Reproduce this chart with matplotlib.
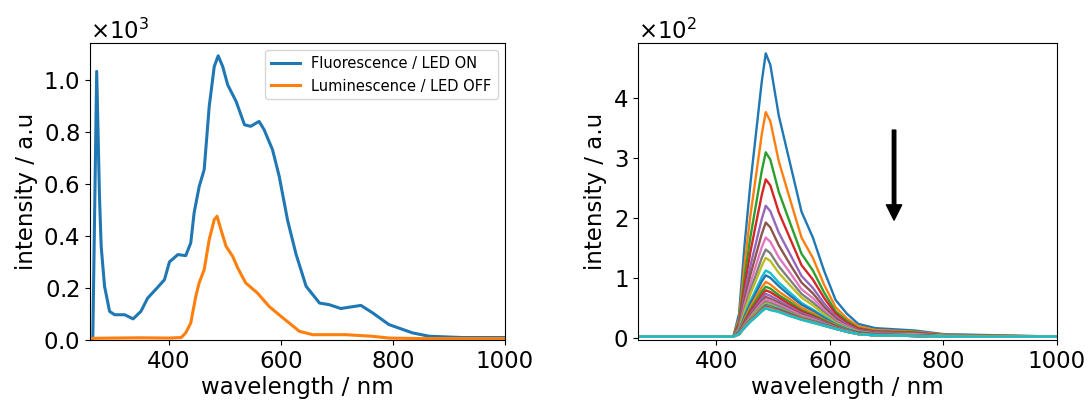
import matplotlib
matplotlib.use("Agg")
import matplotlib.pyplot as plt

# ---- left panel: fluorescence vs luminescence (values in units of 1e3) ----
fluo_wl = [264, 271, 276, 279, 285, 294, 303, 321, 336, 350, 362, 377, 392, 401,
           416, 430, 439, 445, 454, 463, 472, 481, 488, 496, 505, 520, 535, 546,
           561, 570, 585, 597, 612, 627, 645, 669, 686, 707, 743, 764, 793, 835,
           865, 924, 1000]
fluo_int = [0.0, 1.035, 0.55, 0.36, 0.206, 0.109, 0.096, 0.096, 0.08, 0.109, 0.16,
            0.195, 0.231, 0.30, 0.328, 0.324, 0.373, 0.489, 0.59, 0.656, 0.90,
            1.054, 1.095, 1.054, 0.983, 0.919, 0.829, 0.823, 0.842, 0.81, 0.733,
            0.63, 0.46, 0.33, 0.206, 0.141, 0.135, 0.12, 0.132, 0.103, 0.058,
            0.026, 0.013, 0.008, 0.008]

lum_wl = [264, 300, 350, 400, 422, 430, 439, 448, 454, 463, 472, 481, 486, 493,
          502, 514, 523, 537, 558, 579, 600, 615, 633, 657, 716, 763, 793, 850, 1000]
lum_int = [0.005, 0.006, 0.007, 0.006, 0.008, 0.026, 0.064, 0.167, 0.219, 0.27,
           0.386, 0.463, 0.476, 0.424, 0.36, 0.321, 0.276, 0.219, 0.18, 0.128,
           0.09, 0.064, 0.032, 0.019, 0.019, 0.013, 0.006, 0.004, 0.004]

# ---- right panel: luminescence decay series (values in units of 1e2) ----
decay_wl = [262, 430, 440, 450, 460, 470, 480, 487, 495, 510, 530, 550, 570,
            590, 610, 630, 650, 680, 750, 800, 1000]
decay_int = [
    [0.03, 0.03, 0.41, 1.59, 2.58, 3.43, 4.28, 4.75, 4.56, 3.71, 2.91, 2.11, 1.68, 1.12, 0.64, 0.41, 0.24, 0.17, 0.13, 0.07, 0.03],
    [0.03, 0.03, 0.33, 1.26, 2.05, 2.72, 3.40, 3.77, 3.62, 2.95, 2.31, 1.68, 1.34, 0.89, 0.52, 0.33, 0.20, 0.14, 0.11, 0.06, 0.03],
    [0.03, 0.03, 0.28, 1.04, 1.69, 2.24, 2.79, 3.10, 2.98, 2.44, 1.92, 1.41, 1.13, 0.76, 0.45, 0.29, 0.17, 0.12, 0.10, 0.05, 0.03],
    [0.03, 0.03, 0.24, 0.89, 1.44, 1.92, 2.39, 2.65, 2.55, 2.10, 1.66, 1.22, 0.98, 0.67, 0.41, 0.26, 0.16, 0.11, 0.09, 0.05, 0.03],
    [0.03, 0.03, 0.20, 0.75, 1.21, 1.60, 1.99, 2.21, 2.12, 1.76, 1.40, 1.04, 0.84, 0.58, 0.36, 0.23, 0.14, 0.10, 0.08, 0.04, 0.03],
    [0.03, 0.03, 0.18, 0.66, 1.06, 1.40, 1.74, 1.93, 1.85, 1.55, 1.23, 0.93, 0.75, 0.52, 0.33, 0.21, 0.13, 0.09, 0.07, 0.04, 0.03],
    [0.03, 0.03, 0.16, 0.57, 0.92, 1.22, 1.52, 1.68, 1.61, 1.35, 1.09, 0.82, 0.67, 0.47, 0.30, 0.20, 0.12, 0.08, 0.07, 0.04, 0.03],
    [0.03, 0.03, 0.15, 0.51, 0.81, 1.07, 1.34, 1.48, 1.42, 1.20, 0.97, 0.74, 0.60, 0.43, 0.28, 0.18, 0.11, 0.08, 0.06, 0.04, 0.03],
    [0.03, 0.03, 0.13, 0.46, 0.74, 0.97, 1.21, 1.34, 1.29, 1.09, 0.88, 0.68, 0.55, 0.40, 0.26, 0.17, 0.11, 0.07, 0.06, 0.04, 0.03],
    [0.03, 0.03, 0.12, 0.39, 0.62, 0.82, 1.02, 1.13, 1.09, 0.93, 0.76, 0.59, 0.48, 0.36, 0.24, 0.16, 0.10, 0.07, 0.05, 0.04, 0.03],
    [0.03, 0.03, 0.11, 0.37, 0.58, 0.76, 0.95, 1.05, 1.01, 0.87, 0.71, 0.56, 0.46, 0.34, 0.23, 0.15, 0.10, 0.07, 0.05, 0.03, 0.03],
    [0.03, 0.03, 0.10, 0.33, 0.52, 0.69, 0.85, 0.94, 0.90, 0.78, 0.65, 0.51, 0.42, 0.31, 0.22, 0.14, 0.09, 0.06, 0.05, 0.03, 0.03],
    [0.03, 0.03, 0.10, 0.30, 0.48, 0.63, 0.78, 0.86, 0.83, 0.72, 0.60, 0.47, 0.39, 0.30, 0.21, 0.14, 0.09, 0.06, 0.05, 0.03, 0.03],
    [0.03, 0.03, 0.09, 0.28, 0.45, 0.58, 0.72, 0.80, 0.77, 0.68, 0.56, 0.45, 0.37, 0.28, 0.20, 0.13, 0.09, 0.06, 0.05, 0.03, 0.03],
    [0.03, 0.03, 0.09, 0.26, 0.41, 0.54, 0.67, 0.74, 0.71, 0.63, 0.52, 0.42, 0.35, 0.27, 0.19, 0.13, 0.08, 0.06, 0.05, 0.03, 0.03],
    [0.03, 0.03, 0.08, 0.25, 0.39, 0.51, 0.62, 0.69, 0.66, 0.59, 0.49, 0.40, 0.33, 0.26, 0.19, 0.12, 0.08, 0.05, 0.04, 0.03, 0.03],
    [0.03, 0.03, 0.08, 0.23, 0.36, 0.48, 0.59, 0.65, 0.63, 0.56, 0.47, 0.38, 0.32, 0.25, 0.18, 0.12, 0.08, 0.05, 0.04, 0.03, 0.03],
    [0.03, 0.03, 0.08, 0.22, 0.34, 0.45, 0.55, 0.61, 0.59, 0.53, 0.44, 0.36, 0.30, 0.24, 0.17, 0.12, 0.08, 0.05, 0.04, 0.03, 0.03],
    [0.03, 0.03, 0.07, 0.21, 0.33, 0.43, 0.53, 0.58, 0.56, 0.50, 0.42, 0.35, 0.29, 0.23, 0.17, 0.11, 0.08, 0.05, 0.04, 0.03, 0.03],
    [0.03, 0.03, 0.07, 0.20, 0.32, 0.41, 0.51, 0.56, 0.54, 0.49, 0.41, 0.34, 0.29, 0.23, 0.17, 0.11, 0.08, 0.05, 0.04, 0.03, 0.03],
    [0.03, 0.03, 0.07, 0.20, 0.31, 0.40, 0.50, 0.55, 0.53, 0.48, 0.41, 0.34, 0.28, 0.23, 0.17, 0.11, 0.08, 0.05, 0.04, 0.03, 0.03],
    [0.03, 0.03, 0.07, 0.20, 0.31, 0.40, 0.49, 0.54, 0.52, 0.47, 0.40, 0.34, 0.28, 0.22, 0.17, 0.11, 0.08, 0.05, 0.04, 0.03, 0.03],
    [0.03, 0.03, 0.07, 0.19, 0.30, 0.39, 0.48, 0.53, 0.51, 0.47, 0.40, 0.33, 0.28, 0.22, 0.17, 0.11, 0.08, 0.05, 0.04, 0.03, 0.03],
    [0.03, 0.03, 0.08, 0.20, 0.30, 0.38, 0.47, 0.53, 0.50, 0.47, 0.40, 0.33, 0.28, 0.22, 0.17, 0.11, 0.08, 0.05, 0.04, 0.03, 0.03],
    [0.03, 0.03, 0.07, 0.19, 0.29, 0.38, 0.47, 0.52, 0.50, 0.46, 0.39, 0.32, 0.27, 0.22, 0.16, 0.11, 0.07, 0.05, 0.04, 0.03, 0.03],
    [0.03, 0.03, 0.08, 0.19, 0.30, 0.38, 0.46, 0.52, 0.49, 0.46, 0.39, 0.32, 0.27, 0.22, 0.16, 0.11, 0.07, 0.05, 0.04, 0.03, 0.03],
    [0.03, 0.03, 0.07, 0.19, 0.29, 0.37, 0.46, 0.51, 0.49, 0.45, 0.38, 0.32, 0.27, 0.21, 0.16, 0.11, 0.07, 0.05, 0.04, 0.03, 0.03],
    [0.03, 0.03, 0.07, 0.18, 0.28, 0.37, 0.46, 0.51, 0.48, 0.45, 0.38, 0.32, 0.27, 0.21, 0.16, 0.11, 0.07, 0.05, 0.04, 0.03, 0.03],
    [0.03, 0.03, 0.07, 0.18, 0.28, 0.36, 0.45, 0.50, 0.48, 0.44, 0.37, 0.31, 0.26, 0.21, 0.16, 0.11, 0.07, 0.05, 0.04, 0.03, 0.03],
    [0.03, 0.03, 0.07, 0.18, 0.28, 0.36, 0.45, 0.50, 0.47, 0.44, 0.37, 0.31, 0.26, 0.21, 0.16, 0.11, 0.07, 0.05, 0.04, 0.03, 0.03],
]

legend_labels = ["Fluorescence / LED ON", "Luminescence / LED OFF"]


def main():
    plt.rcParams["font.size"] = 16.5
    fig = plt.figure(figsize=(10.88, 4.03), dpi=100)
    ax1 = fig.add_axes([0.0827, 0.156, 0.3813, 0.737])
    ax2 = fig.add_axes([0.5864, 0.156, 0.3851, 0.737])

    # left: spectra with and without LED
    ax1.plot(fluo_wl, [v * 1e3 for v in fluo_int], color="tab:blue", lw=2.2,
             label=legend_labels[0])
    ax1.plot(lum_wl, [v * 1e3 for v in lum_int], color="tab:orange", lw=2.2,
             label=legend_labels[1])
    ax1.set_xlim(259, 1000)
    ax1.set_ylim(-2, 1144)
    ax1.set_xticks([400, 600, 800, 1000])
    ax1.set_xlabel("wavelength / nm", labelpad=2)
    ax1.set_ylabel("intensity / a.u")
    ax1.ticklabel_format(axis="y", style="sci", scilimits=(0, 0), useMathText=True)
    ax1.legend(loc="upper right", fontsize=10.5)

    # right: decay of luminescence over time
    for row in decay_int:
        ax2.plot(decay_wl, [v * 1e2 for v in row], lw=1.7)
    ax2.set_xlim(262, 1000)
    ax2.set_ylim(-3, 492)
    ax2.set_xticks([400, 600, 800, 1000])
    ax2.set_xlabel("wavelength / nm", labelpad=2)
    ax2.set_ylabel("intensity / a.u")
    ax2.ticklabel_format(axis="y", style="sci", scilimits=(0, 0), useMathText=True)
    ax2.annotate("", xy=(713, 197), xytext=(713, 347),
                 arrowprops=dict(facecolor="black", edgecolor="black",
                                 width=2.5, headwidth=11, headlength=11))

    fig.savefig("out.png", dpi=100)


if __name__ == "__main__":
    main()
